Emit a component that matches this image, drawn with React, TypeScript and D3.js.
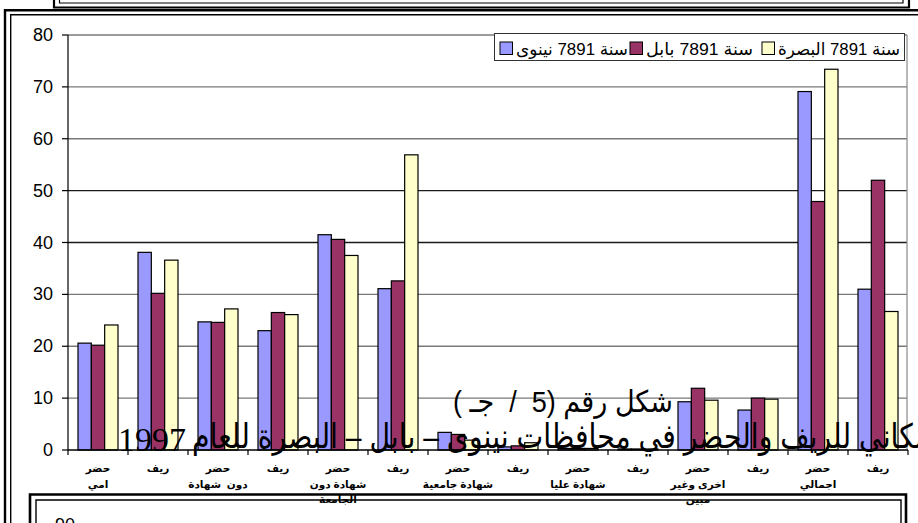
import React from "react";
import * as d3 from "d3";

// Category labels (one entry per bar group, lines stacked top to bottom)
const categoryLabels: string[][] = [
  ["حضر", "امي"],
  ["ريف"],
  ["حضر", "دون  شهادة"],
  ["ريف"],
  ["حضر", "شهادة دون", "الجامعة"],
  ["ريف"],
  ["حضر", "شهادة جامعية"],
  ["ريف"],
  ["حضر", "شهادة عليا"],
  ["ريف"],
  ["حضر", "اخرى وغير", "مبين"],
  ["ريف"],
  ["حضر", "اجمالي"],
  ["ريف"],
];

const seriesNames = ["سنة 7891 نينوى", "سنة 7891 بابل", "سنة 7891 البصرة"];
const seriesColors = ["#9999FF", "#993366", "#FFFFCC"];

// Percentages per category
const nineveh = [20.6, 38.1, 24.7, 23.0, 41.5, 31.1, 3.4, 0.6, 0.3, 0.2, 9.3, 7.7, 69.1, 31.0];
const babil = [20.2, 30.2, 24.6, 26.5, 40.6, 32.6, 3.0, 0.8, 0.3, 0.2, 11.9, 10.0, 47.9, 52.0];
const basra = [24.1, 36.6, 27.2, 26.1, 37.5, 56.9, 1.9, 1.4, 0.3, 0.2, 9.6, 9.8, 73.4, 26.7];

const yTicks = [0, 10, 20, 30, 40, 50, 60, 70, 80];
const darkGridValues = [40, 50];

const titleLine1 = "شكل رقم (5  /  جـ )";
const titleLine2Words = "مكاني للريف والحضر في محافظات نينوى – بابل – البصرة للعام";
const titleLine2Year = "1997";

const W = 918;
const H = 523;
const SANS = "'Liberation Sans', Arial, 'DejaVu Sans', sans-serif";
const SERIF = "'Liberation Serif', 'Times New Roman', 'DejaVu Serif', serif";
const ARABIC = "'Liberation Sans', Arial, 'DejaVu Sans', sans-serif";

export default function App() {
  const series = [nineveh, babil, basra];
  const plotLeft = 68;
  const plotRight = 907;
  const y = d3.scaleLinear().domain([0, 80]).range([450, 35]);
  const x0 = d3
    .scaleBand<number>()
    .domain(d3.range(categoryLabels.length))
    .range([plotLeft, plotLeft + 60 * categoryLabels.length]);
  const bw = x0.bandwidth();
  const x1 = d3
    .scaleBand<number>()
    .domain([0, 1, 2])
    .range([bw / 6, (bw * 5) / 6]);

  // legend layout: swatch left of its text, entries left to right
  const legendEntries = [
    { s: 0, swatchX: 500, textRight: 628, textWidth: 112 },
    { s: 1, swatchX: 630, textRight: 753, textWidth: 107 },
    { s: 2, swatchX: 762, textRight: 900, textWidth: 122 },
  ];

  return (
    <svg
      width={W}
      height={H}
      style={{ position: "absolute", left: 0, top: 0, background: "#fff" }}
    >
      <rect x={0} y={0} width={W} height={H} fill="#fff" />

      {/* page frames */}
      <g fill="none" stroke="#000">
        <path d="M54,-10 V7.5 H909 V-10" strokeWidth={2.2} />
        <path d="M59.5,-10 V3 H903 V-10" strokeWidth={1.2} />
        <path d="M5,540 V10.2 H930" strokeWidth={2.4} />
        <path d="M10.7,540 V14.8 H930" strokeWidth={1.4} />
      </g>

      {/* gridlines */}
      {yTicks
        .filter((t) => t > 0)
        .map((t) => (
          <line
            key={"g" + t}
            x1={plotLeft}
            x2={plotRight}
            y1={y(t)}
            y2={y(t)}
            stroke={darkGridValues.includes(t) ? "#1a1a1a" : "#7a7a7a"}
            strokeWidth={1.3}
          />
        ))}
      <line x1={plotRight} x2={plotRight} y1={y(80)} y2={y(0)} stroke="#8a8a8a" strokeWidth={1.2} />

      {/* bars */}
      {categoryLabels.map((_, i) => (
        <g key={"c" + i} transform={`translate(${x0(i)},0)`}>
          {series.map((vals, s) => (
            <rect
              key={s}
              x={x1(s)}
              y={y(vals[i])}
              width={x1.bandwidth()}
              height={y(0) - y(vals[i])}
              fill={seriesColors[s]}
              stroke="#000"
              strokeWidth={1.2}
            />
          ))}
        </g>
      ))}

      {/* axes */}
      <line x1={plotLeft} x2={plotLeft} y1={y(80)} y2={y(0)} stroke="#000" strokeWidth={1.2} />
      <line x1={plotLeft} x2={plotRight + 1} y1={y(0)} y2={y(0)} stroke="#000" strokeWidth={1.3} />
      {yTicks.map((t) => (
        <g key={"yt" + t}>
          <line x1={plotLeft - 6} x2={plotLeft} y1={y(t)} y2={y(t)} stroke="#000" strokeWidth={1.2} />
          <text
            x={53}
            y={y(t) + 6}
            textAnchor="end"
            fontFamily={SANS}
            fontSize={18}
            fill="#000"
          >
            {t}
          </text>
        </g>
      ))}
      {d3.range(categoryLabels.length + 1).map((i) => (
        <line
          key={"xt" + i}
          x1={plotLeft + i * bw}
          x2={plotLeft + i * bw}
          y1={y(0)}
          y2={y(0) + 5}
          stroke="#000"
          strokeWidth={1.2}
        />
      ))}

      {/* category labels */}
      {categoryLabels.map((lines, i) => (
        <text
          key={"xl" + i}
          x={(x0(i) as number) + bw / 2}
          textAnchor="middle"
          direction="rtl"
          fontFamily={ARABIC}
          fontSize={10.5}
          fontWeight="bold"
          fill="#000"
          style={{ whiteSpace: "pre" }}
        >
          {lines.map((ln, k) => (
            <tspan key={k} x={(x0(i) as number) + bw / 2} y={472 + k * 15.5}>
              {ln}
            </tspan>
          ))}
        </text>
      ))}

      {/* legend */}
      <rect x={494.5} y={33.5} width={410} height={27} fill="#fff" stroke="#333" strokeWidth={1} />
      {legendEntries.map((e) => (
        <g key={"lg" + e.s}>
          <rect
            x={e.swatchX}
            y={42}
            width={12.5}
            height={12.5}
            fill={seriesColors[e.s]}
            stroke="#000"
            strokeWidth={1}
          />
          <text
            x={e.textRight}
            y={55}
            direction="rtl"
            textAnchor="start"
            fontFamily={SANS}
            fontSize={17}
            textLength={e.textWidth}
            lengthAdjust="spacingAndGlyphs"
            fill="#000"
          >
            {seriesNames[e.s]}
          </text>
        </g>
      ))}

      {/* caption lines overlapping the plot */}
      <text
        x={673}
        y={412}
        direction="rtl"
        textAnchor="start"
        fontFamily={SANS}
        fontSize={30}
        textLength={220}
        lengthAdjust="spacingAndGlyphs"
        fill="#000"
        style={{ whiteSpace: "pre" }}
      >
        {titleLine1}
      </text>
      <text x={118} y={451} fontFamily={SERIF} fontSize={34} fill="#000">
        {titleLine2Year}
      </text>
      <text
        x={930}
        y={448}
        direction="rtl"
        textAnchor="start"
        fontFamily={ARABIC}
        fontSize={34}
        textLength={738}
        lengthAdjust="spacingAndGlyphs"
        fill="#000"
      >
        {titleLine2Words}
      </text>

      {/* lower frame with the next chart's first tick */}
      <g fill="none" stroke="#000">
        <path d="M30,540 V494.5 H906 V540" strokeWidth={2.6} />
        <path d="M36,540 V500 H901 V540" strokeWidth={1.4} />
      </g>
      <text x={75} y={531} textAnchor="end" fontFamily={SANS} fontSize={18} fill="#000">
        90
      </text>
    </svg>
  );
}
